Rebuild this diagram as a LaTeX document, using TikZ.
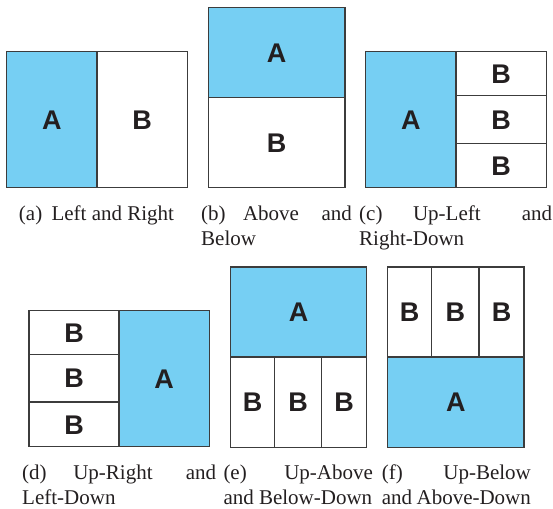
\documentclass[tikz,border=0pt]{standalone}
\usepackage{fontspec}
\setmainfont{Liberation Serif}
\setsansfont{Liberation Sans}
\definecolor{fillA}{RGB}{118,207,243}
\definecolor{ink}{RGB}{35,31,32}
\definecolor{frame}{RGB}{60,60,60}
\tikzset{
  cell/.style={draw=frame, line width=1.1pt, inner sep=0pt, outer sep=0pt,
    text=ink, font=\fontsize{27}{30}\selectfont\sffamily\bfseries,
    text height=19.3pt, text depth=0pt},
  cellA/.style={cell, fill=fillA},
  cellB/.style={cell, fill=white},
  sz/.style 2 args={minimum width=#1pt, minimum height=#2pt},
  captext/.style={inner sep=0pt, anchor=base west, text=ink,
    font=\fontsize{21}{24.7}\selectfont},
}
\newcommand{\capbox}[3]{\parbox[t]{#1pt}{\fontsize{21}{24.7}\selectfont
  \hbox to \linewidth{#2}\par #3}}
\begin{document}
\begin{tikzpicture}[x=1pt, y=-1pt]
\useasboundingbox (0,0) rectangle (553,508);

% (a) Left and Right
\node[cellA, sz={90.3}{136}] (aA) at (51.85,119.7) {A};
\node[cellB, sz={90.3}{136}] (aB) at (142.15,119.7) {B};
\node[captext, anchor=base] (capa) at (96.5,220.5) {(a)\hspace{0.44em}Left and Right};

% (b) Above and Below
\node[cellA, sz={136.7}{90.5}] (bA) at (276.65,52.55) {A};
\node[cellB, sz={136.7}{89.9}] (bB) at (276.65,142.75) {B};
\node[captext] (capb) at (201,220.5)
  {\capbox{150.7}{(b)\hskip 0pt plus 1fill Above\hskip 0pt plus 1.3fill and}{Below}};

% (c) Up-Left and Right-Down
\node[cellA, sz={90.3}{136}] (cA) at (410.85,119.7) {A};
\node[cellB, sz={90.3}{44}]   (cB1) at (501.15,73.7) {B};
\node[cellB, sz={90.3}{47.6}] (cB2) at (501.15,119.5) {B};
\node[cellB, sz={90.3}{44.4}] (cB3) at (501.15,165.5) {B};
\node[captext] (capc) at (359,220.5)
  {\capbox{193}{(c)\hskip 0pt plus 1fill Up-Left\hskip 0pt plus 1.35fill and}{Right-Down}};

% (d) Up-Right and Left-Down
\node[cellB, sz={90}{43.6}] (dB1) at (74,332.5) {B};
\node[cellB, sz={90}{47.7}] (dB2) at (74,378.15) {B};
\node[cellB, sz={90}{44.7}] (dB3) at (74,424.35) {B};
\node[cellA, sz={90.3}{136}] (dA) at (164.15,378.7) {A};
\node[captext] (capd) at (22,479.3)
  {\capbox{194}{(d)\hskip 0pt plus 1fill Up-Right\hskip 0pt plus 1.25fill and}{Left-Down}};

% (e) Up-Above and Below-Down
\node[cellA, sz={136}{90}] (eA) at (298.7,312) {A};
\node[cellB, sz={43.6}{90.3}] (eB1) at (252.5,402.15) {B};
\node[cellB, sz={47.4}{90.3}] (eB2) at (298,402.15) {B};
\node[cellB, sz={45}{90.3}]   (eB3) at (344.2,402.15) {B};
\node[captext] (cape) at (223.3,479.3)
  {\capbox{149.4}{(e)\hfill Up-Above}{and Below-Down}};

% (f) Up-Below and Above-Down
\node[cellB, sz={44}{90}]   (fB1) at (409.7,312) {B};
\node[cellB, sz={47.3}{90}] (fB2) at (455.35,312) {B};
\node[cellB, sz={45}{90}]   (fB3) at (501.5,312) {B};
\node[cellA, sz={136.3}{90.3}] (fA) at (455.85,402.15) {A};
\node[captext] (capf) at (381.7,479.3)
  {\capbox{149}{(f)\hfill Up-Below}{and Above-Down}};
\end{tikzpicture}
\end{document}
